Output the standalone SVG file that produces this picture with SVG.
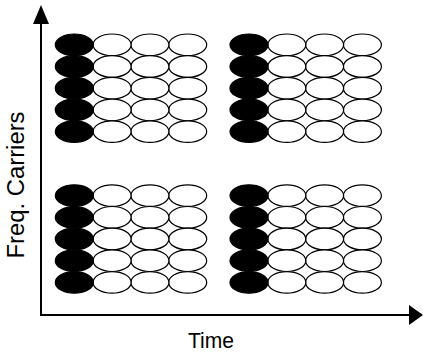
<svg xmlns="http://www.w3.org/2000/svg" xmlns:xlink="http://www.w3.org/1999/xlink" width="423" height="354" viewBox="0 0 423 354">
<style>
.e{fill:#fff;stroke:#000;stroke-width:1.2}
.b{fill:#000;stroke:#000;stroke-width:1.2}
.ax{stroke:#000;stroke-width:2;fill:none}
.t{font-family:"Liberation Sans",Arial,sans-serif;fill:#000}
</style>
<defs>
<g id="blk">
<ellipse class="b" cx="0" cy="0" rx="19" ry="10.8"/>
<ellipse class="b" cx="0" cy="21.7" rx="19" ry="10.8"/>
<ellipse class="b" cx="0" cy="43.4" rx="19" ry="10.8"/>
<ellipse class="b" cx="0" cy="65.1" rx="19" ry="10.8"/>
<ellipse class="b" cx="0" cy="86.8" rx="19" ry="10.8"/>
</g>
<g id="wcol">
<ellipse class="e" cx="0" cy="0" rx="19" ry="10.8"/>
<ellipse class="e" cx="0" cy="21.7" rx="19" ry="10.8"/>
<ellipse class="e" cx="0" cy="43.4" rx="19" ry="10.8"/>
<ellipse class="e" cx="0" cy="65.1" rx="19" ry="10.8"/>
<ellipse class="e" cx="0" cy="86.8" rx="19" ry="10.8"/>
</g>
<g id="grid">
<use xlink:href="#wcol" x="113.4"/>
<use xlink:href="#wcol" x="75.6"/>
<use xlink:href="#wcol" x="37.8"/>
<use xlink:href="#blk" x="0"/>
</g>
</defs>
<g id="connectors">
<line class="ax" x1="41" y1="315" x2="41" y2="22"/>
<polygon points="41,5 33,24 49,24" fill="#000"/>
<line class="ax" x1="40" y1="315" x2="410" y2="315"/>
<polygon points="423,315 409,305 409,325" fill="#000"/>
</g>
<g id="block-top-left"><use xlink:href="#grid" x="74.3" y="44.8"/></g>
<g id="block-top-right"><use xlink:href="#grid" x="249" y="44.8"/></g>
<g id="block-bottom-left"><use xlink:href="#grid" x="74.3" y="195.6"/></g>
<g id="block-bottom-right"><use xlink:href="#grid" x="249" y="195.6"/></g>
<text class="t" x="188" y="347.7" font-size="22" textLength="46" lengthAdjust="spacingAndGlyphs">Time</text>
<text class="t" transform="translate(24,258.5) rotate(-90)" x="0" y="0" font-size="23" textLength="147" lengthAdjust="spacingAndGlyphs">Freq. Carriers</text>
</svg>
